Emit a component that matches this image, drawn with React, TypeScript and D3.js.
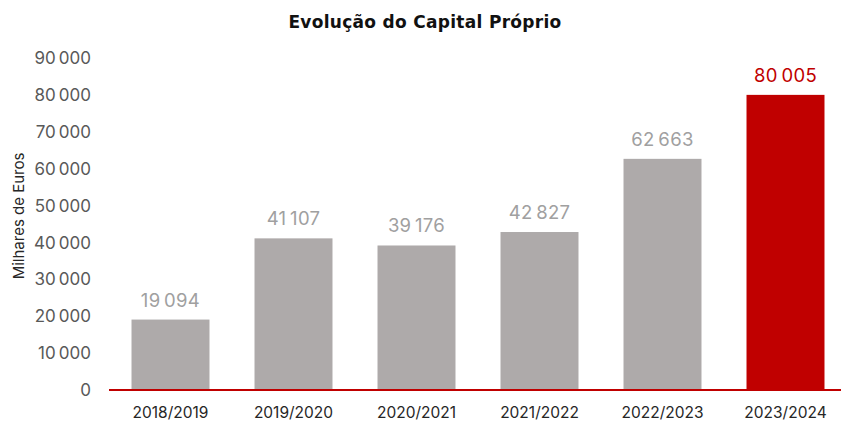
import React, { useEffect, useRef } from 'react';
import * as d3 from 'd3';

const periods = ['2018/2019', '2019/2020', '2020/2021', '2021/2022', '2022/2023', '2023/2024'];
const capital = [19094, 41107, 39176, 42827, 62663, 80005];
const yTicks = [0, 10000, 20000, 30000, 40000, 50000, 60000, 70000, 80000, 90000];

const GREY = '#aeaaaa';
const RED = '#c00000';
const FONT = 'Inter, "Noto Sans", sans-serif';

const fmt = (v: number) => d3.format(',')(v).replace(/,/g, '\u2009');

export default function App() {
    const ref = useRef<SVGSVGElement | null>(null);
    useEffect(() => {
        const svg = d3.select(ref.current);
        svg.selectAll('*').remove();
        const width = 842, height = 423;
        const margin = { top: 58, right: 0, bottom: 33, left: 109 };

        const x = d3.scaleBand().domain(periods).range([margin.left, 847]).paddingInner(0.366).paddingOuter(0.183);
        const y = d3.scaleLinear().domain([0, 90000]).range([height - margin.bottom, margin.top]);

        svg.attr('viewBox', `0 0 ${width} ${height}`);

        svg.append('text')
            .attr('x', 425).attr('y', 28)
            .attr('text-anchor', 'middle')
            .attr('font-family', '"DejaVu Sans", sans-serif').attr('font-weight', 700)
            .attr('font-size', 17).attr('letter-spacing', 0.3)
            .attr('fill', '#111')
            .text('Evolução do Capital Próprio');

        // y ticks, no axis line
        svg.append('g').selectAll('text').data(yTicks).join('text')
            .attr('x', 91).attr('y', d => y(d))
            .attr('dy', '0.36em')
            .attr('text-anchor', 'end')
            .attr('font-family', FONT).attr('font-size', 17)
            .attr('fill', '#595959')
            .text(d => fmt(d));

        svg.append('text')
            .attr('transform', `translate(24,216) rotate(-90)`)
            .attr('text-anchor', 'middle')
            .attr('font-family', FONT).attr('font-size', 15)
            .attr('fill', '#262626')
            .text('Milhares de Euros');

        const rows = periods.map((p, i) => ({ p, v: capital[i], last: i === periods.length - 1 }));

        svg.append('g').selectAll('rect').data(rows).join('rect')
            .attr('x', d => x(d.p)!)
            .attr('y', d => y(d.v))
            .attr('width', x.bandwidth())
            .attr('height', d => y(0) - y(d.v))
            .attr('fill', d => d.last ? RED : GREY);

        svg.append('g').selectAll('text').data(rows).join('text')
            .attr('x', d => x(d.p)! + x.bandwidth() / 2)
            .attr('y', d => y(d.v) - 13)
            .attr('text-anchor', 'middle')
            .attr('font-family', FONT).attr('font-size', 18.5).attr('letter-spacing', 0.3)
            .attr('fill', d => d.last ? RED : '#a0a0a0')
            .text(d => fmt(d.v));

        svg.append('line')
            .attr('x1', margin.left).attr('x2', 841)
            .attr('y1', y(0)).attr('y2', y(0))
            .attr('stroke', RED).attr('stroke-width', 2);

        svg.append('g').selectAll('text').data(periods).join('text')
            .attr('x', d => x(d)! + x.bandwidth() / 2)
            .attr('y', 418)
            .attr('text-anchor', 'middle')
            .attr('font-family', FONT).attr('font-size', 15.5)
            .attr('fill', '#262626')
            .text(d => d);
    }, []);
    return <svg ref={ref} width={842} height={423} style={{ position: 'absolute', left: 0, top: 0 }} />;
}
